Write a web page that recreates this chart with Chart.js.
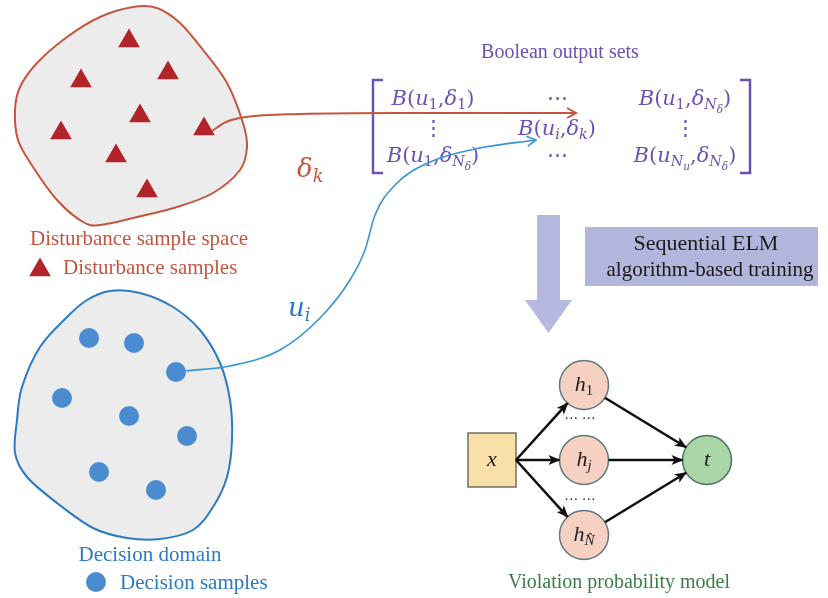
<!DOCTYPE html>
<html><head><meta charset="utf-8">
<script src="https://cdn.jsdelivr.net/npm/chart.js@4"></script>
<style>html,body{margin:0;padding:0;background:#fff}#wrap{width:828px;height:598px;position:relative}</style>
</head><body><div id="wrap"><canvas id="c"></canvas></div>
<script>
// ---------- data ----------
const disturbanceX = [129,168,81,140,61,204,116,147];
const disturbanceY = [41,73,81,116,133,129,156,191];
const decisionX = [89,134,176,62,129,187,99,156];
const decisionY = [338,343,372,398,416,436,472,490];
const disturbanceBlobX = [15,20,37,67,100,133,157,180,203,227,243,247,240,213,177,133,100,83,57,33,18];
const disturbanceBlobY = [110,87,63,37,17,7,8,23,50,83,123,147,170,193,207,218,225,222,200,167,140];
const decisionBlobX = [110,140,173,200,220,230,232,227,213,193,160,127,93,57,27,15,17,22,40,67,87];
const decisionBlobY = [291,293,307,330,363,400,440,477,507,530,539,538,528,503,477,453,420,387,347,317,300];
const deltaCurveX = [212,226,246,300,400,576];
const deltaCurveY = [131,122,117,114,113,113];
const uCurveX = [186,230,280,320,350,365,375,395,430,480,536];
const uCurveY = [371,366,350,318,280,250,215,185,162,148,140];
const nodeNames = ['x','h1','hj','hN','t'];
const nodeX = [492,584,584,584,707];
const nodeY = [460,385,460,535,460];
const edgeFrom = [0,0,0,1,2,3];
const edgeTo = [1,2,3,4,4,4];
const legendTriangleX = [40], legendTriangleY = [270];
const legendCircleX = [96], legendCircleY = [582];

// ---------- colors ----------
const RED='#c4563f', RED_MARK='#b0242a', BLUE='#2c7bc2', BLUE_MARK='#4a8ccf', PURPLE='#6a52b3';
const SERIF='"Liberation Serif", "Times New Roman", serif';
const MATH='"DejaVu Serif", serif';

const pts=(xs,ys)=>xs.map((x,i)=>({x,y:ys[i]}));
const NODE_R=24.5;

const edgeSets = edgeFrom.map((f,i)=>{
  const t=edgeTo[i];
  let sx=nodeX[f], sy=nodeY[f];
  if(f===0){ sx = nodeX[0]+24; }
  else { const a=Math.atan2(nodeY[t]-sy,nodeX[t]-sx); sx+=Math.cos(a)*NODE_R; sy+=Math.sin(a)*NODE_R; }
  const a2=Math.atan2(nodeY[t]-sy,nodeX[t]-sx);
  const ex=nodeX[t]-Math.cos(a2)*NODE_R, ey=nodeY[t]-Math.sin(a2)*NODE_R;
  return {type:'line', data:[{x:sx,y:sy},{x:ex,y:ey}], borderColor:'#111', borderWidth:2.6, pointRadius:0, fill:false, tension:0, arrow:'filled'};
});

function richParts(ctx, parts, x, y, size, family, color, align){
  const sc=[1,0.68,0.5], sh=[0,0.2,0.36];
  const f=p=>(p[2]?'italic ':'')+(size*sc[p[1]]).toFixed(1)+'px '+family;
  let w=0; parts.forEach(p=>{ctx.font=f(p); w+=ctx.measureText(p[0]).width;});
  let cx = align==='center'? x-w/2 : (align==='right'? x-w : x);
  ctx.fillStyle=color; ctx.textAlign='left'; ctx.textBaseline='alphabetic';
  parts.forEach(p=>{ctx.font=f(p); ctx.fillText(p[0],cx,y+size*sh[p[1]]); cx+=ctx.measureText(p[0]).width;});
}
const B=(a,b)=>[['B',0,1],['(',0,0]].concat(a,[[',',0,0]],b,[[')',0,0]]);
const u1=[['u',0,1],['1',1,0]], ui=[['u',0,1],['i',1,1]], uNu=[['u',0,1],['N',1,1],['u',2,1]];
const d1=[['δ',0,1],['1',1,0]], dk=[['δ',0,1],['k',1,1]], dN=[['δ',0,1],['N',1,1],['δ',2,1]];
const matrixCells=[
  {parts:B(u1,d1),c:0,r:0},{parts:[['⋯',0,0]],c:1,r:0},{parts:B(u1,dN),c:2,r:0},
  {parts:[['⋮',0,0]],c:0,r:1},{parts:B(ui,dk),c:1,r:1},{parts:[['⋮',0,0]],c:2,r:1},
  {parts:B(u1,dN),c:0,r:2},{parts:[['⋯',0,0]],c:1,r:2},{parts:B(uNu,dN),c:2,r:2}
];
const matrixColX=[433,557,685], matrixRowY=[105,135,162];
const nodeLabels=[[['x',0,1]],[['h',0,1],['1',1,0]],[['h',0,1],['j',1,1]],[['h',0,1],['N\u0302',1,1]],[['t',0,1]]];

function closedCurve(ctx,p){
  const n=p.length; ctx.beginPath(); ctx.moveTo(p[0][0],p[0][1]);
  for(let i=0;i<n;i++){
    const p0=p[(i-1+n)%n],p1=p[i],p2=p[(i+1)%n],p3=p[(i+2)%n];
    ctx.bezierCurveTo(p1[0]+(p2[0]-p0[0])/6,p1[1]+(p2[1]-p0[1])/6,p2[0]-(p3[0]-p1[0])/6,p2[1]-(p3[1]-p1[1])/6,p2[0],p2[1]);
  }
  ctx.closePath();
}

const diagram={
  id:'diagram',
  beforeDatasetsDraw(chart){
    const ctx=chart.ctx, X=v=>chart.scales.x.getPixelForValue(v), Y=v=>chart.scales.y.getPixelForValue(v);
    ctx.save();
    [[disturbanceBlobX,disturbanceBlobY,RED],[decisionBlobX,decisionBlobY,BLUE]].forEach(([xs,ys,col])=>{
      closedCurve(ctx, xs.map((x,i)=>[X(x),Y(ys[i])]));
      ctx.fillStyle='#ececec'; ctx.fill(); ctx.lineWidth=2; ctx.strokeStyle=col; ctx.stroke();
    });
    ctx.fillStyle='#b6b9df';
    ctx.fillRect(X(537),Y(215),X(560)-X(537),Y(300)-Y(215));
    ctx.beginPath(); ctx.moveTo(X(525),Y(300)); ctx.lineTo(X(572),Y(300)); ctx.lineTo(X(548.5),Y(333)); ctx.closePath(); ctx.fill();
    ctx.fillStyle='#b3b6dc'; ctx.fillRect(X(585),Y(227),X(818)-X(585),Y(286)-Y(227));
    ctx.strokeStyle=PURPLE; ctx.lineWidth=2.5;
    ctx.beginPath(); ctx.moveTo(X(383),Y(80)); ctx.lineTo(X(373),Y(80)); ctx.lineTo(X(373),Y(173)); ctx.lineTo(X(383),Y(173)); ctx.stroke();
    ctx.beginPath(); ctx.moveTo(X(740),Y(80)); ctx.lineTo(X(750),Y(80)); ctx.lineTo(X(750),Y(173)); ctx.lineTo(X(740),Y(173)); ctx.stroke();
    matrixCells.forEach(c=>richParts(ctx,c.parts,X(matrixColX[c.c]),Y(matrixRowY[c.r]),21,MATH,PURPLE,'center'));
    ctx.fillStyle='#f8e0a8'; ctx.strokeStyle='#707060'; ctx.lineWidth=1.5;
    ctx.fillRect(X(nodeX[0]-24),Y(nodeY[0]-27),48,54); ctx.strokeRect(X(nodeX[0]-24),Y(nodeY[0]-27),48,54);
    ctx.restore();
  },
  afterDatasetsDraw(chart){
    const ctx=chart.ctx, X=v=>chart.scales.x.getPixelForValue(v), Y=v=>chart.scales.y.getPixelForValue(v);
    ctx.save();
    chart.data.datasets.forEach(ds=>{
      if(!ds.arrow) return;
      const n=ds.data.length, a=ds.data[n-2], b=ds.data[n-1];
      const bx=X(b.x), by=Y(b.y), ang=Math.atan2(by-Y(a.y),bx-X(a.x));
      ctx.save(); ctx.translate(bx,by); ctx.rotate(ang);
      if(ds.arrow==='filled'){ ctx.fillStyle=ds.borderColor; ctx.beginPath(); ctx.moveTo(1,0); ctx.lineTo(-11,-5); ctx.lineTo(-8,0); ctx.lineTo(-11,5); ctx.closePath(); ctx.fill(); }
      else { ctx.strokeStyle=ds.borderColor; ctx.lineWidth=ds.borderWidth; ctx.beginPath(); ctx.moveTo(-9,-5); ctx.lineTo(0,0); ctx.lineTo(-9,5); ctx.stroke(); }
      ctx.restore();
    });
    const T=(s,x,y,size,col,align,style)=>{ctx.font=(style||'')+' '+size+'px '+SERIF; ctx.fillStyle=col; ctx.textAlign=align||'center'; ctx.textBaseline='middle'; ctx.fillText(s,X(x),Y(y));};
    T('Boolean output sets',560,53,20,PURPLE);
    T('Disturbance sample space',139,239,21,RED);
    T('Disturbance samples',63,268,21,RED,'left');
    T('Decision domain',150,555,21,BLUE);
    T('Decision samples',120,583,21,BLUE,'left');
    T('Sequential ELM',706,244,22,'#1a1a1a');
    T('algorithm-based training',710,270,21,'#1a1a1a');
    T('Violation probability model',619,583,20,'#3a7d44');
    T('··· ···',580,419,14,'#222'); T('··· ···',580,500,14,'#222');
    richParts(ctx,[['δ',0,1],['k',1,1]],X(297),Y(177),26,MATH,RED,'left');
    richParts(ctx,[['u',0,1],['i',1,1]],X(288),Y(316),26,MATH,BLUE,'left');
    nodeLabels.forEach((p,i)=>richParts(ctx,p,X(nodeX[i]),Y(nodeY[i])+6,22,SERIF,'#222','center'));
    ctx.restore();
  }
};

new Chart(document.getElementById('c'),{
  type:'scatter',
  data:{datasets:[
    {type:'line',data:pts(deltaCurveX,deltaCurveY),borderColor:RED,borderWidth:2,pointRadius:0,cubicInterpolationMode:'monotone',fill:false,arrow:'open'},
    {type:'line',data:pts(uCurveX,uCurveY),borderColor:'#3a95d6',borderWidth:1.6,pointRadius:0,cubicInterpolationMode:'monotone',fill:false,arrow:'open'},
    ...edgeSets,
    {data:pts(disturbanceX,disturbanceY),pointStyle:'triangle',pointRadius:12.5,backgroundColor:RED_MARK,borderWidth:0},
    {data:pts(legendTriangleX,legendTriangleY),pointStyle:'triangle',pointRadius:12.5,backgroundColor:RED_MARK,borderWidth:0},
    {data:pts(decisionX,decisionY),pointStyle:'circle',pointRadius:10,backgroundColor:BLUE_MARK,borderWidth:0},
    {data:pts(legendCircleX,legendCircleY),pointStyle:'circle',pointRadius:10,backgroundColor:BLUE_MARK,borderWidth:0},
    {data:pts(nodeX.slice(1),nodeY.slice(1)),pointStyle:'circle',pointRadius:NODE_R,
     backgroundColor:['#f6d1c2','#f6d1c2','#f6d1c2','#a9d6a6'],borderColor:['#5f7a7e','#5f7a7e','#5f7a7e','#4f6f66'],borderWidth:1.5}
  ]},
  options:{animation:false,responsive:true,maintainAspectRatio:false,events:[],layout:{padding:0,autoPadding:false},
    elements:{point:{hoverRadius:0}},
    plugins:{legend:{display:false},tooltip:{enabled:false}},
    scales:{x:{type:'linear',min:0,max:828,display:false},y:{type:'linear',min:0,max:598,reverse:true,display:false}}},
  plugins:[diagram]
});
</script></body></html>
